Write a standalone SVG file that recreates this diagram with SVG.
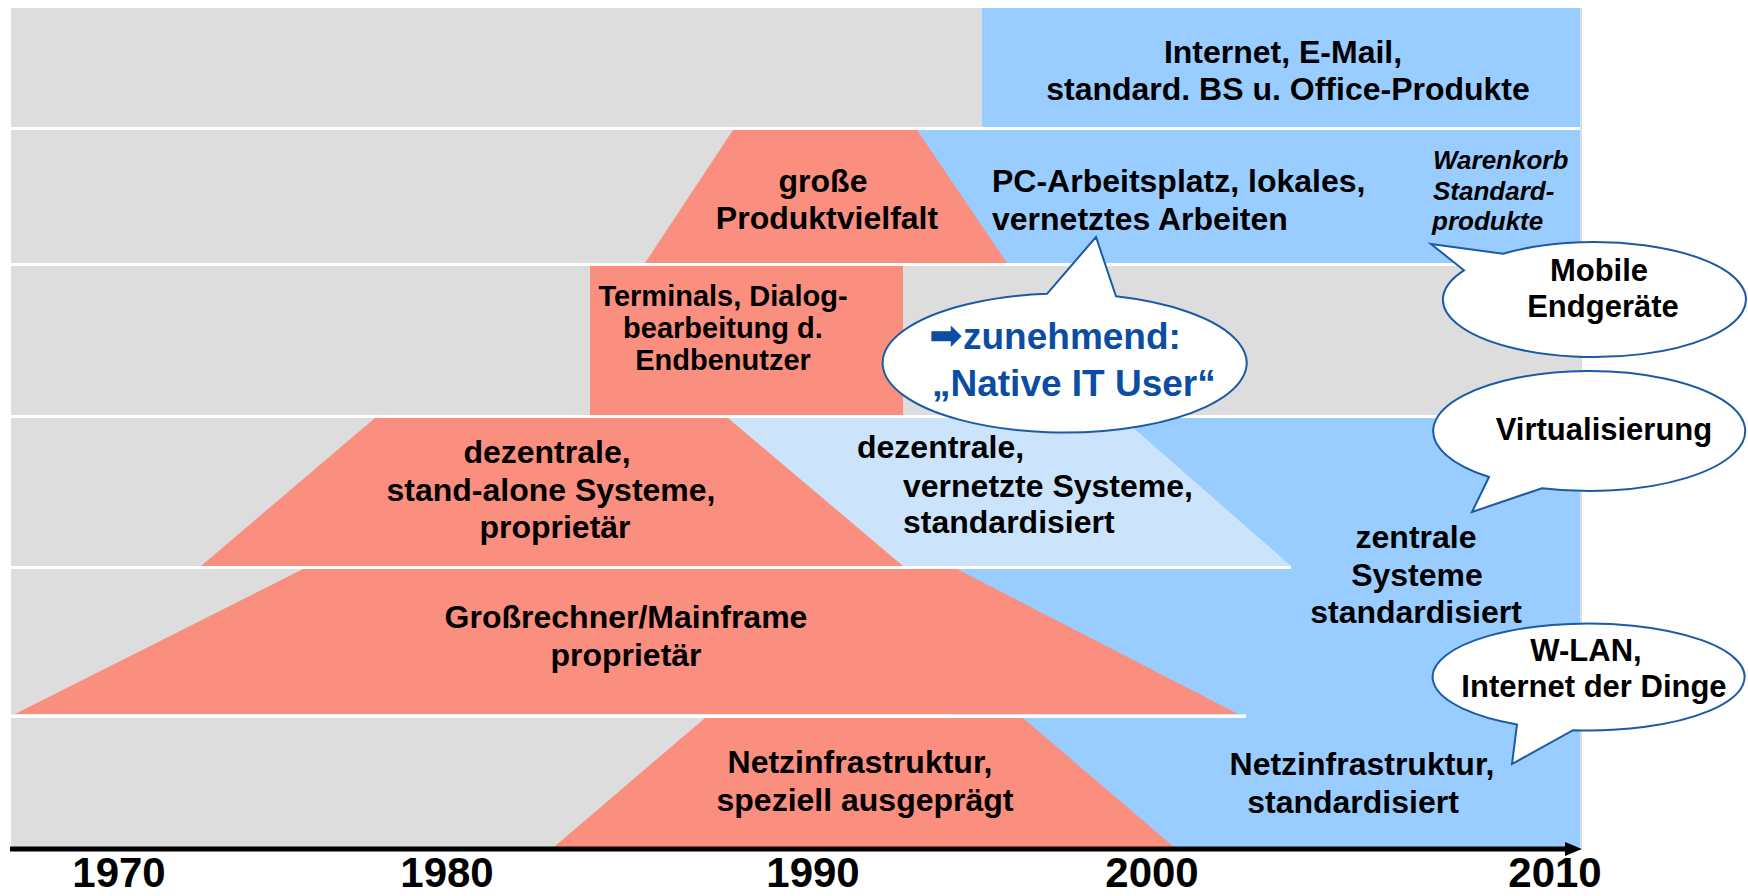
<svg xmlns="http://www.w3.org/2000/svg" width="1748" height="896" viewBox="0 0 1748 896">
<defs>
<style>
.t{font-family:"Liberation Sans",Arial,sans-serif;font-weight:bold;font-size:32px;fill:#000}
.m{text-anchor:middle}
.s29{font-size:29px}
.b31{font-size:31px}
.it{font-style:italic;font-size:26px}
.yr{font-size:42px}
.bt{fill:#0B4DA2;font-size:37px}
.gray{fill:#DDDDDD}
.sal{fill:#FA8E7F}
.blue{fill:#99CCFF}
.lblue{fill:#CCE4FB}
.sep{fill:#FFFFFF}
.bub{fill:#FFFFFF;stroke:#1B5AA6;stroke-width:2}
</style>
<marker id="ah" markerUnits="userSpaceOnUse" markerWidth="18" markerHeight="16" refX="5" refY="7" orient="auto">
<path d="M0,0 L17,7 L0,14 Z" fill="#000"/>
</marker>
</defs>

<g id="background">
<rect class="gray" x="11" y="8" width="1571" height="840"/>
</g>

<g id="band-internet">
<rect class="blue" x="982" y="8" width="598" height="120"/>
<text class="t m" x="1283" y="63">Internet, E-Mail,</text>
<text class="t m" x="1288" y="100">standard. BS u. Office-Produkte</text>
</g>

<g id="band-pc">
<rect class="blue" x="916" y="128" width="664" height="137"/>
<polygon class="sal" points="733,130 917,130 1007,263 645,263"/>
<text class="t m" x="823" y="192">große</text>
<text class="t m" x="827" y="229">Produktvielfalt</text>
<text class="t" x="992" y="192">PC-Arbeitsplatz, lokales,</text>
<text class="t" x="992" y="230">vernetztes Arbeiten</text>
<text class="t it" x="1433" y="169">Warenkorb</text>
<text class="t it" x="1433" y="200">Standard-</text>
<text class="t it" x="1432" y="230">produkte</text>
</g>

<g id="band-terminals">
<rect class="sal" x="590" y="266" width="313" height="149"/>
<text class="t s29 m" x="723" y="306">Terminals, Dialog-</text>
<text class="t s29 m" x="723" y="338">bearbeitung d.</text>
<text class="t s29 m" x="723" y="370">Endbenutzer</text>
</g>

<g id="band-systems">
<rect class="blue" x="1100" y="418" width="480" height="429"/>
<rect class="blue" x="950" y="566" width="160" height="152"/>
<rect class="blue" x="1015" y="714" width="100" height="133"/>
<polygon class="lblue" points="728,418 1122,418 1291,566 903,566"/>
<polygon class="sal" points="375,418 728,418 903,566 201,566"/>
<text class="t m" x="547" y="463">dezentrale,</text>
<text class="t m" x="551" y="501">stand-alone Systeme,</text>
<text class="t m" x="555" y="538">proprietär</text>
<text class="t" x="857" y="458">dezentrale,</text>
<text class="t" x="903" y="497">vernetzte Systeme,</text>
<text class="t" x="903" y="533">standardisiert</text>
<text class="t m" x="1416" y="548">zentrale</text>
<text class="t m" x="1417" y="586">Systeme</text>
<text class="t m" x="1416" y="623">standardisiert</text>
</g>

<g id="band-mainframe">
<polygon class="sal" points="303,569 957,569 1238,714 15,714"/>
<text class="t m" x="626" y="628">Großrechner/Mainframe</text>
<text class="t m" x="626" y="666">proprietär</text>
</g>

<g id="band-network">
<polygon class="sal" points="705,718 1023,718 1174,847 554,847"/>
<text class="t m" x="860" y="773">Netzinfrastruktur,</text>
<text class="t m" x="865" y="811">speziell ausgeprägt</text>
<text class="t m" x="1362" y="775">Netzinfrastruktur,</text>
<text class="t m" x="1353" y="813">standardisiert</text>
</g>

<g id="separators">
<rect class="sep" x="11" y="127" width="1569" height="3"/>
<rect class="sep" x="11" y="263" width="1571" height="3"/>
<rect class="sep" x="11" y="415" width="1571" height="3"/>
<rect class="sep" x="11" y="566" width="1280" height="3"/>
<rect class="sep" x="11" y="714.5" width="1235" height="3.5"/>
</g>

<g id="connectors">
<line x1="10" y1="849" x2="1570" y2="849" stroke="#000" stroke-width="5" marker-end="url(#ah)"/>
</g>

<g id="years">
<text class="t yr m" x="119" y="887">1970</text>
<text class="t yr m" x="447" y="887">1980</text>
<text class="t yr m" x="813" y="887">1990</text>
<text class="t yr m" x="1152" y="887">2000</text>
<text class="t yr m" x="1555" y="887">2010</text>
</g>

<g id="bubble-native">
<path class="bub" d="M1047,293.8 L1096,237 L1116,296.3 A182,69.5 0 1 1 1047,293.8 Z"/>
<text class="t bt" x="929" y="349"><tspan font-family="DejaVu Sans" font-size="40">➡</tspan><tspan x="963">zunehmend:</tspan></text>
<text class="t bt" x="932" y="396">„Native IT User“</text>
</g>

<g id="bubble-mobile">
<path class="bub" d="M1503,253.7 L1431,244 L1464,270.3 A151.5,57.5 0 1 0 1503,253.7 Z"/>
<text class="t b31 m" x="1599" y="281">Mobile</text>
<text class="t b31 m" x="1603" y="317">Endgeräte</text>
</g>

<g id="bubble-virtual">
<path class="bub" d="M1489,477 L1472,512 L1542,488.2 A156,60 0 1 0 1489,477 Z"/>
<text class="t b31 m" x="1604" y="440">Virtualisierung</text>
</g>

<g id="bubble-wlan">
<path class="bub" d="M1517,724.5 L1512,764 L1573,730.2 A156,53.5 0 1 0 1517,724.5 Z"/>
<text class="t b31 m" x="1586" y="661">W-LAN,</text>
<text class="t b31 m" x="1594" y="697">Internet der Dinge</text>
</g>
</svg>
